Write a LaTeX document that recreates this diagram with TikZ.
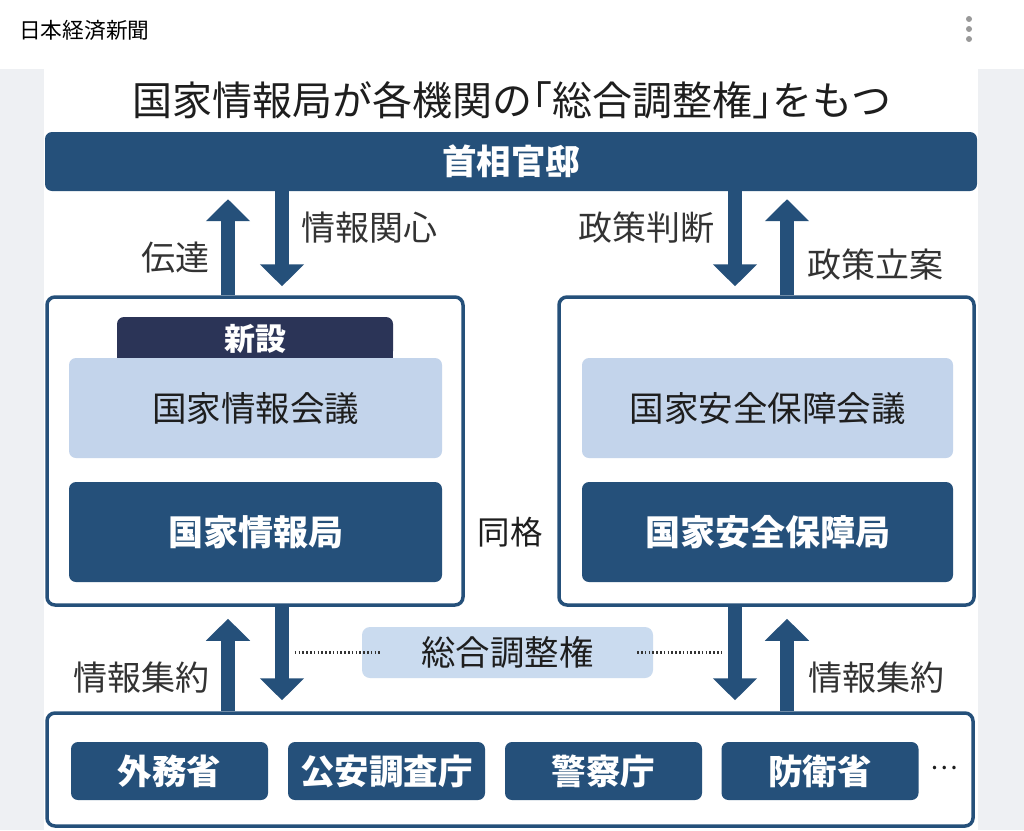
\documentclass[tikz,border=0pt]{standalone}
\usepackage{fontspec}
\setmainfont{Noto Sans CJK JP}
\usetikzlibrary{arrows.meta}
\definecolor{dk}{HTML}{25507A}
\definecolor{navy}{HTML}{2B3457}
\definecolor{lt}{HTML}{C3D4EB}
\definecolor{lt2}{HTML}{CADBEF}
\definecolor{bg}{HTML}{EEF0F3}
\definecolor{txt}{HTML}{1E1E1E}
\definecolor{lbltxt}{HTML}{333333}
\newcommand{\halfbr}[1]{{\addfontfeature{RawFeature=+halt}#1}}
\tikzset{
  fs/.style={font=\fontsize{#1}{#1}\selectfont},
  fsb/.style={font=\bfseries\fontsize{#1}{#1}\selectfont},
  dkbox/.style={fill=dk, rounded corners=7pt, text=white, inner sep=0pt, fsb=35},
  ltbox/.style={fill=lt, rounded corners=7pt, text=txt, inner sep=0pt, fs=34.5},
  frame/.style={draw=dk, line width=3.5pt, fill=white, rounded corners=8pt, inner sep=0pt},
  lbl/.style={text=lbltxt, inner sep=0pt, fs=34},
  blk/.style={draw=dk, line width=14pt, -{Triangle[length=22pt,width=43pt]}},
  dotline/.style={draw=lbltxt, line width=2.2pt, dash pattern=on 1.6pt off 2.2pt},
}
\begin{document}
\begin{tikzpicture}[x=1pt,y=-1pt]
\useasboundingbox (0,0) rectangle (1024,830);
\fill[white] (0,0) rectangle (1024,830);
\fill[bg] (0,69) rectangle (1024,830);
\fill[white] (44,69) rectangle (978,830);
% app header
\node[anchor=west, text=black, inner sep=0pt, fs=21.7] (app) at (19,30) {日本経済新聞};
\fill[gray!80] (969,19) circle (3) (969,29) circle (3) (969,39) circle (3);
% title
\node[text=txt, inner sep=0pt, fs=40] (title) at (512,100) {国家情報局が各機関の\halfbr{「}総合調整権\halfbr{」}をもつ};
% kantei
\node[dkbox, minimum width=932pt, minimum height=59pt, fsb=34.5] (kantei) at (511,161.5) {首相官邸};
% frames
\node[frame, minimum width=416pt, minimum height=308pt] (lbox) at (255,451) {};
\node[frame, minimum width=415pt, minimum height=308pt] (rbox) at (766.5,451) {};
\node[frame, minimum width=926pt, minimum height=113pt] (bbox) at (510,769.5) {};
% tab
\node[fill=navy, rounded corners=7pt, minimum width=276pt, minimum height=41pt, inner sep=0pt] (tab) at (255,337.5) {};
\fill[navy] (tab.west) rectangle (tab.south east);
\node[text=white, inner sep=0pt, fsb=31] (tabtxt) at (255,339) {新設};
% inner boxes
\node[ltbox, minimum width=373pt, minimum height=100pt] (lcouncil) at (255.5,408) {国家情報会議};
\node[dkbox, minimum width=373pt, minimum height=100pt] (lbureau) at (255.5,532) {国家情報局};
\node[ltbox, minimum width=371pt, minimum height=100pt] (rcouncil) at (767.5,408) {国家安全保障会議};
\node[dkbox, minimum width=371pt, minimum height=100pt] (rbureau) at (767.5,532) {国家安全保障局};
\node[text=txt, inner sep=0pt, fs=32.5] (doukaku) at (510,532) {同格};
% agencies
\node[dkbox, minimum width=197pt, minimum height=58pt, fsb=34.5] (a1) at (169.5,771) {外務省};
\node[dkbox, minimum width=197pt, minimum height=58pt, fsb=34.5] (a2) at (386.5,771) {公安調査庁};
\node[dkbox, minimum width=197pt, minimum height=58pt, fsb=34.5] (a3) at (603.5,771) {警察庁};
\node[dkbox, minimum width=197pt, minimum height=58pt, fsb=34.5] (a4) at (820,771) {防衛省};
\node[text=txt, inner sep=0pt, fs=26] (etc) at (944,768) {…};
% arrow columns
\coordinate (cL1) at (228,0);
\coordinate (cL2) at (282,0);
\coordinate (cR1) at (735,0);
\coordinate (cR2) at (787,0);
\draw[blk, shorten >=8pt] (cL1 |- lbox.north) -- (cL1 |- kantei.south);
\draw[blk, shorten >=9pt] (cL2 |- kantei.south) -- (cL2 |- lbox.north);
\draw[blk, shorten >=9pt] (cR1 |- kantei.south) -- (cR1 |- rbox.north);
\draw[blk, shorten >=8pt] (cR2 |- rbox.north) -- (cR2 |- kantei.south);
\draw[blk, shorten >=12pt] (cL1 |- bbox.north) -- (cL1 |- lbox.south);
\draw[blk, shorten >=11pt] (cL2 |- lbox.south) -- (cL2 |- bbox.north);
\draw[blk, shorten >=11pt] (cR1 |- rbox.south) -- (cR1 |- bbox.north);
\draw[blk, shorten >=12pt] (cR2 |- bbox.north) -- (cR2 |- rbox.south);
% labels
\node[lbl] (l1) at (175,258) {伝達};
\node[lbl] (l2) at (369,228) {情報関心};
\node[lbl] (l3) at (646,228) {政策判断};
\node[lbl] (l4) at (875,265) {政策立案};
\node[lbl] (l5) at (141,678) {情報集約};
\node[lbl] (l6) at (876,678) {情報集約};
% sogo
\node[fill=lt2, rounded corners=8pt, minimum width=291pt, minimum height=51pt, inner sep=0pt, text=txt, fs=34.4] (sogo) at (507.5,652.5) {総合調整権};
\draw[dotline] ([xshift=-67pt]sogo.west) -- ([xshift=18pt]sogo.west);
\draw[dotline] ([xshift=-16pt]sogo.east) -- ([xshift=69pt]sogo.east);
\end{tikzpicture}
\end{document}
